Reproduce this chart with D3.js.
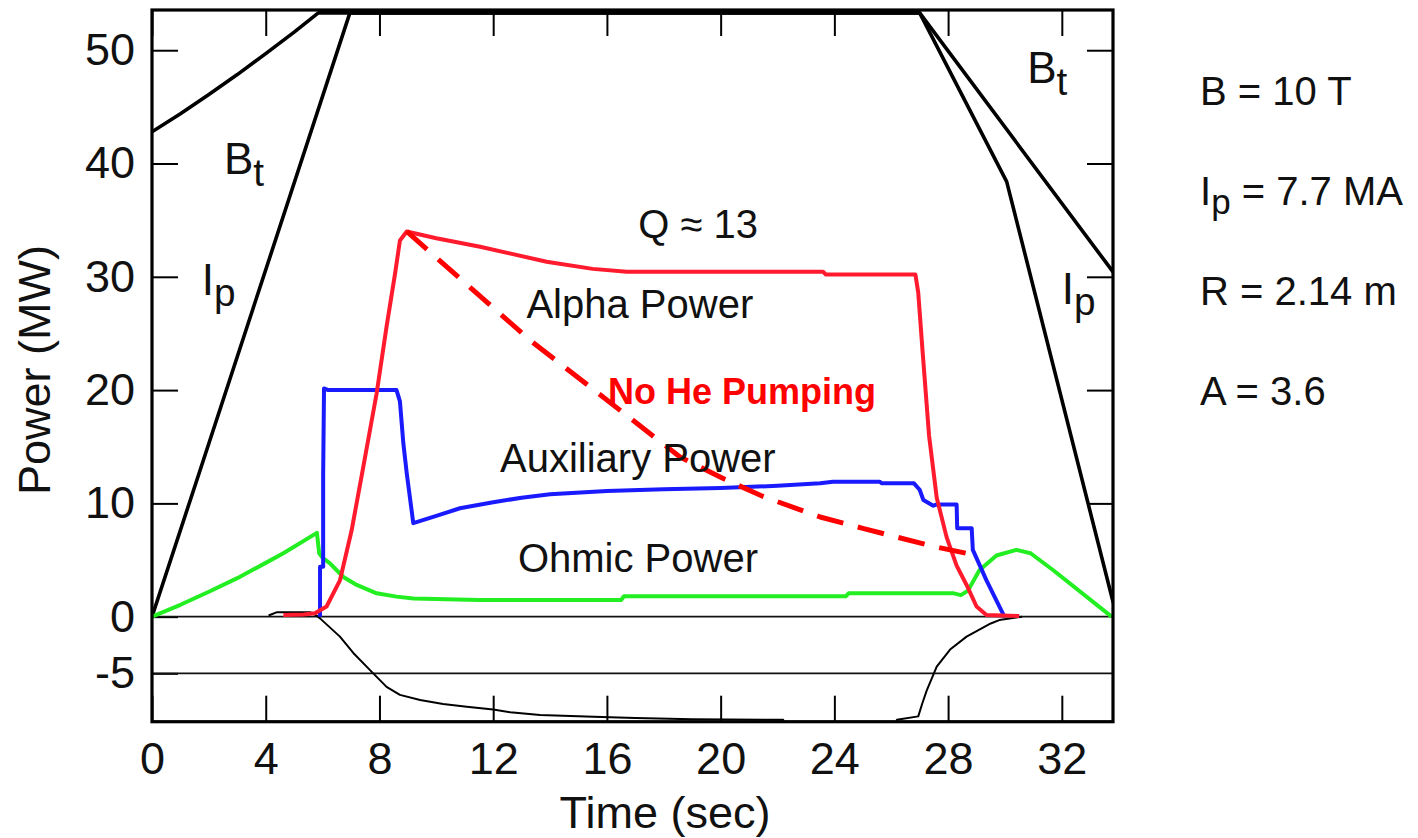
<!DOCTYPE html>
<html>
<head>
<meta charset="utf-8">
<script src="https://cdn.jsdelivr.net/npm/d3@7"></script>
<style>
  body { margin: 0; background: #fff; }
  svg { font-family: "Liberation Sans", Arial, Helvetica, sans-serif; }
</style>
</head>
<body>
<div id="chart"></div>
<script>
// values: [time (sec), power (MW)]
const fieldBt = [[0, 42.8], [1, 44.4], [2, 46.1], [3, 47.85], [4, 49.7], [5, 51.6], [5.85, 53.3], [27.0, 53.3], [33.84, 30.3]];
const currentIp = [[0, 0], [1.57, 12.0], [6.96, 53.3], [27.0, 53.3], [30.06, 38.4], [33.76, 1.7], [33.84, 1.0]];

const lowerTrace = [[4.1, 0.1], [4.4, 0.4], [5.56, 0.4], [5.79, 0.1], [5.91, -0.15], [6.61, -1.76], [7.08, -3.2],
  [7.66, -4.7], [8.25, -6.2], [8.72, -6.9], [9.43, -7.35], [10.24, -7.7], [11.07, -7.94], [12.0, -8.2],
  [12.6, -8.44], [13.65, -8.68], [15.53, -8.83], [17, -8.95], [19, -9.05], [22.2, -9.1], [22.3, -9.8],
  [26.1, -9.8], [26.2, -9.1], [26.95, -8.8], [27.1, -7.6], [27.25, -6.5], [27.6, -4.4], [28.07, -2.9],
  [28.65, -1.76], [29.5, -0.6], [29.8, -0.3], [30.6, 0]];

const ohmicPower = [[0, 0], [1, 1.05], [2, 2.2], [3, 3.4], [4, 4.75], [4.62, 5.6], [5.8, 7.4], [5.88, 5.6],
  [6.0, 5.2], [6.26, 4.7], [6.73, 3.5], [7.2, 2.8], [7.9, 2.06], [8.6, 1.77], [9.2, 1.6], [11.5, 1.47],
  [16.5, 1.47], [16.6, 1.8], [24.4, 1.8], [24.5, 2.06], [28.2, 2.06], [28.45, 1.9], [28.7, 2.3], [29.1, 4.1],
  [29.7, 5.4], [30.4, 5.9], [30.9, 5.6], [31.7, 4.1], [33.75, 0]];

const auxPower = [[5.91, 0], [5.91, 4.4], [6.02, 4.4], [6.02, 12.5], [6.05, 20.15], [6.2, 20.0], [8.6, 20.0],
  [8.72, 19], [8.84, 15.3], [8.96, 12.65], [9.19, 8.25], [10, 8.9], [10.83, 9.57], [12, 10.1], [13, 10.5],
  [14, 10.8], [16, 11.1], [18, 11.25], [20, 11.35], [22, 11.55], [23.5, 11.77], [23.95, 11.9], [25.6, 11.9],
  [25.66, 11.77], [26.8, 11.77], [27.0, 11.2], [27.13, 10.3], [27.48, 9.8], [27.6, 9.9], [28.3, 9.9],
  [28.32, 7.8], [28.83, 7.8], [28.87, 5.9], [29.35, 3.2], [29.95, 0.15], [30.0, 0]];

const alphaPower = [[4.62, 0.15], [5.33, 0.2], [5.73, 0.3], [6.14, 0.9], [6.61, 3.2], [7.02, 7.6], [7.43, 13.2],
  [7.9, 19.7], [8.25, 25.6], [8.55, 30.3], [8.72, 33.2], [8.96, 34.0], [10, 33.4], [11.54, 32.65],
  [13.88, 31.33], [15.5, 30.7], [16.7, 30.45], [23.6, 30.45], [23.7, 30.2], [26.85, 30.2], [26.95, 28.6],
  [27.1, 23.5], [27.33, 16], [27.6, 10.5], [27.95, 7], [28.3, 4.5], [28.65, 2.8], [29.0, 0.9],
  [29.35, 0.15], [30.5, 0.05]];

const alphaNoPumping = [[8.96, 34.0], [13.3, 24.4], [18.57, 14.1], [20, 12.3], [21.5, 10.6], [23.5, 8.8],
  [25, 7.8], [27.48, 6.2], [28.83, 5.5]];

const xTicks = [0, 4, 8, 12, 16, 20, 24, 28, 32];
const yTicks = [-5, 0, 10, 20, 30, 40, 50];
const refLevels = [0, -5];
const paramLabels = [["B", "", " = 10 T"], ["I", "p", " = 7.7 MA"], ["R", "", " = 2.14 m"], ["A", "", " = 3.6"]];

const width = 1418, height = 838;
const svg = d3.select("#chart").append("svg")
    .attr("width", width)
    .attr("height", height);

const x = d3.scaleLinear().domain([0, 33.8]).range([152, 1113]);
const y = d3.scaleLinear().domain([-9.27, 53.55]).range([721.7, 10]);
const [x0, x1] = x.range(), [yb, yt] = y.range();

svg.append("clipPath").attr("id", "plot-clip")
    .append("rect")
    .attr("x", x0).attr("y", yt)
    .attr("width", x1 - x0).attr("height", yb - yt);

// axes: ticks inside the frame, labels only on left / bottom
const styleAxis = (g, fontSize) => {
    g.attr("font-size", null).attr("font-family", null);
    g.select(".domain").remove();
    g.selectAll(".tick line").attr("stroke", "#000").attr("stroke-width", 2);
    g.selectAll(".tick text").attr("font-size", fontSize).attr("fill", "#111");
}

svg.append("g")
    .attr("transform", `translate(0,${yb})`)
    .call(d3.axisBottom(x).tickValues(xTicks).tickSize(-26).tickPadding(20).tickFormat(d => String(d)))
    .call(g => styleAxis(g, 45));

svg.append("g")
    .attr("transform", `translate(0,${yt})`)
    .call(d3.axisTop(x).tickValues(xTicks).tickSize(-26).tickFormat(""))
    .call(g => styleAxis(g, 45));

svg.append("g")
    .attr("transform", `translate(${x0},0)`)
    .call(d3.axisLeft(y).tickValues(yTicks).tickSize(-26).tickPadding(17).tickFormat(d => String(d)))
    .call(g => styleAxis(g, 45));

svg.append("g")
    .attr("transform", `translate(${x1},0)`)
    .call(d3.axisRight(y).tickValues(yTicks.filter(d => d > 0)).tickSize(-26).tickFormat(""))
    .call(g => styleAxis(g, 45));

svg.selectAll(".ref-line")
    .data(refLevels)
    .join("line")
    .attr("class", "ref-line")
    .attr("x1", x0).attr("x2", x1)
    .attr("y1", d => y(d)).attr("y2", d => y(d))
    .attr("stroke", "#111")
    .attr("stroke-width", 1.8);

// curves
const line = d3.line().x(d => x(d[0])).y(d => y(d[1]));
const plot = svg.append("g").attr("clip-path", "url(#plot-clip)");

const series = [
    { data: lowerTrace, color: "#000", w: 2 },
    { data: fieldBt, color: "#000", w: 3.6 },
    { data: currentIp, color: "#000", w: 3.6 },
    { data: ohmicPower, color: "#22ee22", w: 4 },
    { data: auxPower, color: "#1a1aff", w: 4 },
    { data: alphaPower, color: "#ff1a2e", w: 4 },
    { data: alphaNoPumping, color: "#ff0000", w: 5, dash: "27,15" }
];

plot.selectAll(".curve")
    .data(series)
    .join("path")
    .attr("class", "curve")
    .attr("d", d => line(d.data))
    .attr("fill", "none")
    .attr("stroke", d => d.color)
    .attr("stroke-width", d => d.w)
    .attr("stroke-dasharray", d => d.dash || null)
    .attr("stroke-linejoin", "round");

// frame
svg.append("rect")
    .attr("x", x0).attr("y", yt)
    .attr("width", x1 - x0).attr("height", yb - yt)
    .attr("fill", "none")
    .attr("stroke", "#000")
    .attr("stroke-width", 3.2);

// labels inside the plot
const label = (t, v, main, sub, size, opts = {}) => {
    const txt = svg.append("text")
        .attr("x", x(t)).attr("y", y(v))
        .attr("font-size", size)
        .attr("fill", opts.color || "#111")
        .attr("font-weight", opts.weight || null);
    txt.append("tspan").text(main);
    if (sub) txt.append("tspan").attr("dy", size * 0.26).attr("font-size", size * 0.88).text(sub);
    return txt;
}

label(2.53, 39.06, "B", "t", 44);
label(1.75, 28.4, "I", "p", 44);
label(30.78, 47.1, "B", "t", 44);
label(32.0, 27.6, "I", "p", 44);
label(17.1, 33.4, "Q \u2248 13", null, 40);
label(13.17, 26.36, "Alpha Power", null, 40);
label(16.04, 18.77, "No He Pumping", null, 36, { color: "#ff0000", weight: "bold" });
label(12.24, 12.77, "Auxiliary Power", null, 40);
label(12.87, 3.94, "Ohmic Power", null, 40);

// axis titles
svg.append("text")
    .attr("x", 665).attr("y", 828)
    .attr("text-anchor", "middle")
    .attr("font-size", 45)
    .attr("fill", "#111")
    .text("Time (sec)");

svg.append("text")
    .attr("transform", "translate(50,370) rotate(-90)")
    .attr("text-anchor", "middle")
    .attr("font-size", 45)
    .attr("fill", "#111")
    .text("Power (MW)");

// machine parameters on the right
const params = svg.selectAll(".param")
    .data(paramLabels)
    .join("text")
    .attr("class", "param")
    .attr("x", 1200)
    .attr("y", (d, i) => 105 + i * 100)
    .attr("font-size", 40)
    .attr("fill", "#111");
params.append("tspan").text(d => d[0]);
params.append("tspan").attr("dy", d => d[1] ? 9 : 0).attr("font-size", 35).text(d => d[1]);
params.append("tspan").attr("dy", d => d[1] ? -9 : 0).text(d => d[2]);
</script>
</body>
</html>
